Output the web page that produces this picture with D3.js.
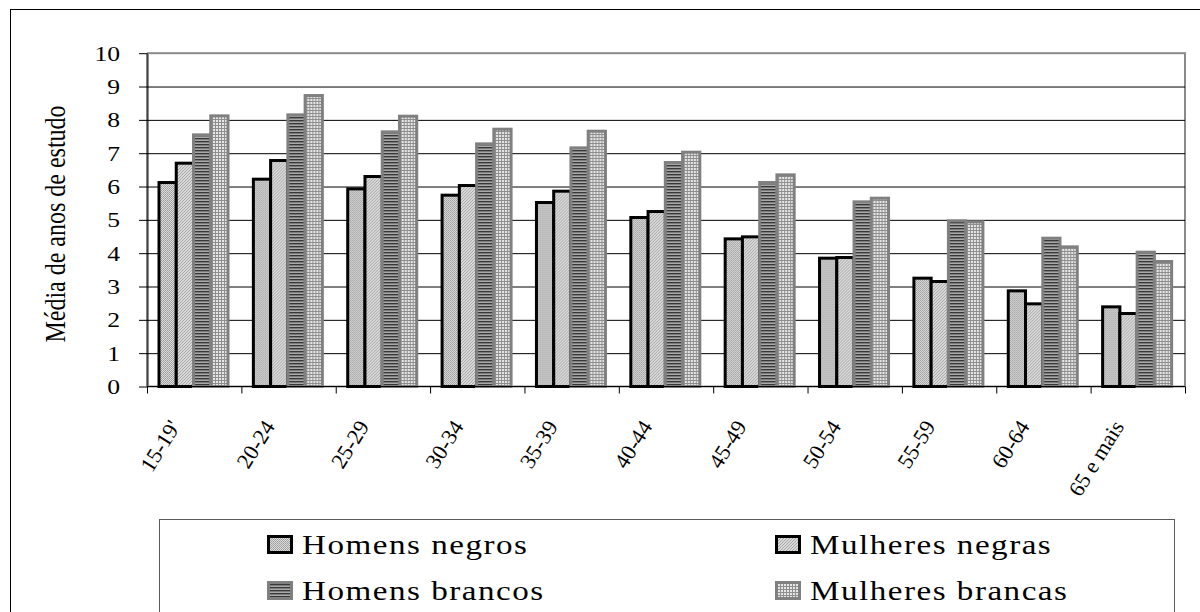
<!DOCTYPE html>
<html>
<head>
<meta charset="utf-8">
<script src="https://cdn.jsdelivr.net/npm/d3@7"></script>
<style>
  body { margin: 0; background: #fff; }
  svg { display: block; }
  text { font-family: "Liberation Serif", "Times New Roman", serif; fill: #000; }
</style>
</head>
<body>
<svg id="chart" width="1200" height="612"></svg>
<script>
// Age groups and mean years of schooling by group
const categories = ["15-19'", "20-24", "25-29", "30-34", "35-39", "40-44", "45-49", "50-54", "55-59", "60-64", "65 e mais"];
const seriesNames = ["Homens negros", "Mulheres negras", "Homens brancos", "Mulheres brancas"];
const homensNegros    = [6.12, 6.22, 5.93, 5.74, 5.52, 5.07, 4.43, 3.85, 3.25, 2.87, 2.39];
const mulheresNegras  = [6.70, 6.78, 6.30, 6.03, 5.86, 5.25, 4.49, 3.87, 3.15, 2.48, 2.19];
const homensBrancos   = [7.55, 8.15, 7.64, 7.28, 7.16, 6.72, 6.12, 5.54, 4.97, 4.45, 4.03];
const mulheresBrancas = [8.12, 8.73, 8.11, 7.72, 7.66, 7.03, 6.35, 5.65, 4.94, 4.19, 3.75];
const yTicks = [0, 1, 2, 3, 4, 5, 6, 7, 8, 9, 10];
const yTitle = "Média de anos de estudo";

const seriesValues = [homensNegros, mulheresNegras, homensBrancos, mulheresBrancas];

const svg = d3.select("#chart");
const SX = 1.25; // horizontal glyph stretch for tick, title and legend text

// Fill patterns for the four series
const defs = svg.append("defs");
function pattern(id, w, h, draw) {
  const p = defs.append("pattern").attr("id", id).attr("patternUnits", "userSpaceOnUse")
    .attr("width", w).attr("height", h);
  draw(p);
}
pattern("pDots", 2, 2, p => {
  p.append("rect").attr("width", 2).attr("height", 2).attr("fill", "#dcdcdc");
  p.append("rect").attr("width", 1).attr("height", 1).attr("fill", "#9a9a9a");
  p.append("rect").attr("x", 1).attr("y", 1).attr("width", 1).attr("height", 1).attr("fill", "#a8a8a8");
});
pattern("pDiag", 3, 3, p => {
  p.append("rect").attr("width", 3).attr("height", 3).attr("fill", "#dadada");
  p.append("rect").attr("x", 0).attr("y", 2).attr("width", 1).attr("height", 1).attr("fill", "#a6a6a6");
  p.append("rect").attr("x", 1).attr("y", 1).attr("width", 1).attr("height", 1).attr("fill", "#a6a6a6");
  p.append("rect").attr("x", 2).attr("y", 0).attr("width", 1).attr("height", 1).attr("fill", "#a6a6a6");
});
pattern("pStripes", 3, 3, p => {
  p.append("rect").attr("width", 3).attr("height", 3).attr("fill", "#a9a9a9");
  p.append("rect").attr("width", 3).attr("height", 1.4).attr("fill", "#383838");
});
pattern("pGrid", 3, 3, p => {
  p.append("rect").attr("width", 3).attr("height", 3).attr("fill", "#8e8e8e");
  p.append("rect").attr("width", 2).attr("height", 2).attr("fill", "#e6e6e6");
});

const fills   = ["url(#pDots)", "url(#pDiag)", "url(#pStripes)", "url(#pGrid)"];
const strokes = ["#000", "#000", "#808080", "#808080"];

// Outer frame
svg.append("rect").attr("x", 10.5).attr("y", 9.5).attr("width", 1250).attr("height", 700)
  .attr("fill", "none").attr("stroke", "#000").attr("stroke-width", 1);

// Scales
const x0 = 147, x1 = 1185, yBottom = 386.5, yTop = 53.2;
const x = d3.scaleBand().domain(categories).range([x0, x1]);
const xEdge = d3.scaleLinear().domain([0, categories.length]).range([x0, x1]);
const xs = d3.scaleBand().domain(seriesNames).range([12, 81]);
const y = d3.scaleLinear().domain([0, 10]).range([yBottom, yTop]);

// Plot area frame
svg.append("rect").attr("x", x0 + 1).attr("y", yTop).attr("width", x1 - x0 - 1).attr("height", yBottom - yTop)
  .attr("fill", "none").attr("stroke", "#8a8a8a").attr("stroke-width", 2);

// Horizontal gridlines
svg.append("g").attr("transform", `translate(${x0},0)`)
  .call(d3.axisLeft(y).tickValues(yTicks.slice(1, -1)).tickSize(-(x1 - x0)).tickFormat(""))
  .call(g => g.select(".domain").remove())
  .call(g => g.selectAll("line").attr("stroke", "#000").attr("stroke-width", 1));

// Bars
const groups = svg.append("g").selectAll("g").data(categories).join("g")
  .attr("transform", d => `translate(${x(d)},0)`);
groups.selectAll("rect")
  .data((c, ci) => seriesNames.map((s, si) => ({ s, si, v: seriesValues[si][ci] })))
  .join("rect")
  .attr("x", d => xs(d.s))
  .attr("y", d => y(d.v))
  .attr("width", xs.bandwidth())
  .attr("height", d => y(0) - y(d.v))
  .attr("fill", d => fills[d.si])
  .attr("stroke", d => strokes[d.si])
  .attr("stroke-width", 3);

// Y axis
const yAxis = svg.append("g").attr("transform", `translate(${x0},0)`)
  .call(d3.axisLeft(y).tickValues(yTicks).tickSize(8).tickFormat(d3.format("d")));
yAxis.select(".domain").attr("stroke", "#000").attr("d", `M0,${yTop}V${yBottom}`);
yAxis.selectAll("line").attr("stroke", "#000");
yAxis.selectAll("text")
  .attr("x", null).attr("dy", null)
  .attr("transform", `translate(-27,7) scale(${SX},1)`)
  .attr("text-anchor", "end")
  .style("font-size", "20.5px");

// X axis: boundary ticks
const xAxis = svg.append("g").attr("transform", `translate(0,${yBottom})`)
  .call(d3.axisBottom(xEdge).tickValues(d3.range(categories.length + 1)).tickSize(7).tickFormat(""));
xAxis.select(".domain").attr("stroke", "#000").attr("d", `M${x0},0H${x1}`);
xAxis.selectAll("line").attr("stroke", "#000");

// X axis: rotated category labels
svg.append("g").selectAll("text").data(categories).join("text")
  .attr("transform", d => `translate(${x(d) + x.bandwidth() / 2 - 13},426.5) rotate(-58)`)
  .attr("text-anchor", "end")
  .style("font-size", "22px")
  .text(d => d);

// Y axis title
svg.append("text")
  .attr("transform", `translate(65,224) scale(${SX},1) rotate(-90)`)
  .attr("text-anchor", "middle")
  .style("font-size", "24px")
  .text(yTitle);

// Legend
const lg = svg.append("g");
lg.append("rect").attr("x", 159.5).attr("y", 519.5).attr("width", 1015).attr("height", 200)
  .attr("fill", "#fff").attr("stroke", "#5a5a5a").attr("stroke-width", 1);
const items = lg.selectAll("g.item").data(seriesNames).join("g").attr("class", "item")
  .attr("transform", (d, i) => `translate(${267 + (i % 2) * 508},${535 + Math.floor(i / 2) * 46})`);
items.append("rect")
  .attr("x", 1.5).attr("y", 1.5).attr("width", 23).attr("height", 16)
  .attr("fill", (d, i) => fills[i]).attr("stroke", (d, i) => strokes[i]).attr("stroke-width", 3);
items.append("text")
  .attr("transform", `translate(35,18.5) scale(${SX},1)`)
  .style("font-size", "26.5px")
  .style("letter-spacing", "1.2px")
  .text(d => d);
</script>
</body>
</html>
